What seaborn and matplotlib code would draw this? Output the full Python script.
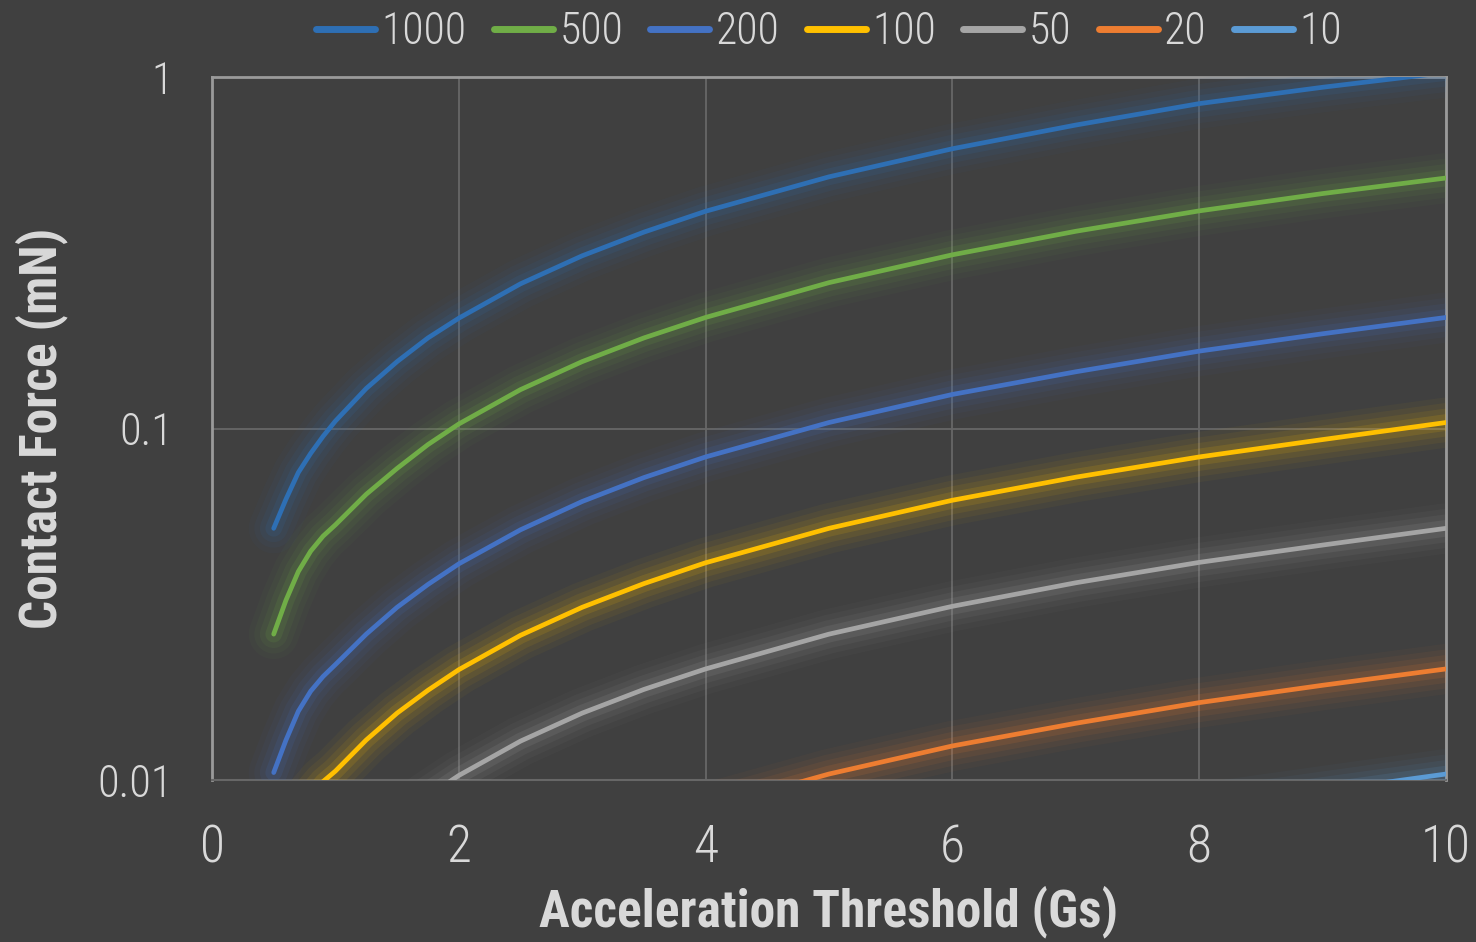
import matplotlib
matplotlib.use("Agg")
import matplotlib.pyplot as plt
import matplotlib.patheffects as pe
from matplotlib.lines import Line2D
from matplotlib import font_manager
import seaborn as sns
import pandas as pd

# ---- data ----
accel = [0.5, 0.6, 0.7, 0.8, 0.9, 1.0, 1.25, 1.5, 1.75, 2, 2.5, 3, 3.5, 4, 5, 6, 7, 8, 9, 10]
f_1000 = [0.052, 0.063, 0.075, 0.085, 0.095, 0.105, 0.13, 0.155, 0.181, 0.206, 0.258, 0.31, 0.362, 0.415,
          0.52, 0.625, 0.73, 0.84, 0.935, 1.03]
f_500 = [0.026, 0.0325, 0.0392, 0.0448, 0.0494, 0.0532, 0.065, 0.077, 0.09, 0.103, 0.129, 0.155, 0.181, 0.207,
         0.26, 0.312, 0.364, 0.416, 0.466, 0.516]
f_200 = [0.0105, 0.013, 0.0157, 0.0179, 0.0197, 0.0213, 0.026, 0.031, 0.036, 0.0412, 0.0515, 0.062, 0.0725, 0.083,
         0.104, 0.125, 0.145, 0.166, 0.186, 0.207]
f_100 = [0.0052, 0.0065, 0.0079, 0.009, 0.0099, 0.0106, 0.013, 0.0155, 0.018, 0.0206, 0.0258, 0.031, 0.0362, 0.0415,
         0.052, 0.0625, 0.0727, 0.083, 0.093, 0.104]
f_50 = [0.0026, 0.0032, 0.0039, 0.0045, 0.0049, 0.0053, 0.0065, 0.0077, 0.009, 0.0103, 0.0129, 0.0155, 0.0181,
        0.0207, 0.026, 0.0312, 0.0364, 0.0416, 0.0466, 0.052]
f_20 = [0.00105, 0.0013, 0.0016, 0.0018, 0.002, 0.0021, 0.0026, 0.0031, 0.0036, 0.0041, 0.0052, 0.0062, 0.0073,
        0.0083, 0.0104, 0.0125, 0.0145, 0.0166, 0.0186, 0.0207]
f_10 = [0.00052, 0.00065, 0.0008, 0.0009, 0.00099, 0.00106, 0.0013, 0.00155, 0.0018, 0.00206, 0.0026, 0.0031,
        0.0036, 0.0041, 0.0052, 0.0062, 0.0073, 0.0083, 0.0093, 0.0104]

series_labels = ["1000", "500", "200", "100", "50", "20", "10"]
series_values = [f_1000, f_500, f_200, f_100, f_50, f_20, f_10]
series_colors = ["#2e6fb4", "#70ad47", "#4472c4", "#ffc000", "#a5a5a5", "#ed7d31", "#5b9bd5"]

x_ticks = [0, 2, 4, 6, 8, 10]
y_ticks = [0.01, 0.1, 1]
y_tick_labels = ["0.01", "0.1", "1"]
x_label = "Acceleration Threshold (Gs)"
y_label = "Contact Force (mN)"

# ---- style ----
BG = "#404040"
TXT = "#d9d9d9"
GRID = "#676767"
SPINE = "#9a9a9a"

sns.set_theme(style="dark")
avail = {f.name for f in font_manager.fontManager.ttflist}
cands = ["Roboto Condensed", "Liberation Sans Narrow", "Open Sans Condensed", "Arial Narrow"]
fam = [f for f in cands if f in avail]
STRETCH = "normal"
if not fam:
    fam = ["DejaVu Sans"]
    STRETCH = "condensed"
plt.rcParams["font.family"] = fam + ["DejaVu Sans"]
plt.rcParams["font.stretch"] = STRETCH

rows = []
for lab, vals in zip(series_labels, series_values):
    for xv, yv in zip(accel, vals):
        rows.append({"Acceleration": xv, "Force": yv, "Mass": lab})
df = pd.DataFrame(rows)
palette = dict(zip(series_labels, series_colors))

fig = plt.figure(figsize=(14.76, 9.42), dpi=100, facecolor=BG)
ax = fig.add_axes([212 / 1476, 1 - 780 / 942, (1446 - 212) / 1476, (780 - 77) / 942])
ax.set_facecolor(BG)

sns.lineplot(data=df, x="Acceleration", y="Force", hue="Mass", hue_order=series_labels,
             palette=palette, linewidth=3.4, legend=False, ax=ax, zorder=3)

for line in ax.get_lines():
    line.set_solid_capstyle("round")
    line.set_solid_joinstyle("round")
    line.set_path_effects([
        pe.Stroke(linewidth=36, alpha=0.04),
        pe.Stroke(linewidth=28, alpha=0.055),
        pe.Stroke(linewidth=20, alpha=0.08),
        pe.Stroke(linewidth=12, alpha=0.13),
        pe.Normal(),
    ])

ax.set_yscale("log")
ax.set_xlim(0, 10)
ax.set_ylim(0.01, 1)
ax.set_xticks(x_ticks)
ax.set_xticklabels([str(t) for t in x_ticks])
ax.set_yticks(y_ticks)
ax.set_yticklabels(y_tick_labels)
ax.yaxis.set_minor_locator(matplotlib.ticker.NullLocator())

ax.grid(True, color=GRID, linewidth=1.3)
ax.set_axisbelow(True)
ax.tick_params(axis="both", length=0, colors=TXT)
ax.tick_params(axis="x", labelsize=37, pad=31)
ax.tick_params(axis="y", labelsize=32, pad=28)
for lbl in ax.get_xticklabels() + ax.get_yticklabels():
    lbl.set_fontweight("light")

for s in ["top", "left", "right"]:
    ax.spines[s].set_visible(True)
    ax.spines[s].set_color(SPINE)
    ax.spines[s].set_linewidth(2)
ax.spines["bottom"].set_visible(True)
ax.spines["bottom"].set_color(GRID)
ax.spines["bottom"].set_linewidth(1.5)

ax.set_xlabel(x_label, fontsize=37, fontweight="bold", color=TXT, va="center")
ax.set_ylabel(y_label, fontsize=37, fontweight="bold", color=TXT, va="center")
ax.xaxis.set_label_coords((829 - 212) / (1446 - 212), -(912 - 780) / (780 - 77))
ax.yaxis.set_label_coords(-(212 - 42) / (1446 - 212), 1 - (428 - 77) / 703)

handles = [Line2D([0], [0], color=c, linewidth=5) for c in series_colors]
leg = ax.legend(handles, series_labels, loc="center", bbox_to_anchor=(0.5, 1 + 45 / 703),
                ncol=7, frameon=False, fontsize=31.5, handlelength=1.35, handletextpad=0.15,
                columnspacing=0.62, borderaxespad=0.0)
for t in leg.get_texts():
    t.set_color(TXT)
    t.set_fontweight("light")

fig.savefig("out.png", dpi=100, facecolor=BG)
